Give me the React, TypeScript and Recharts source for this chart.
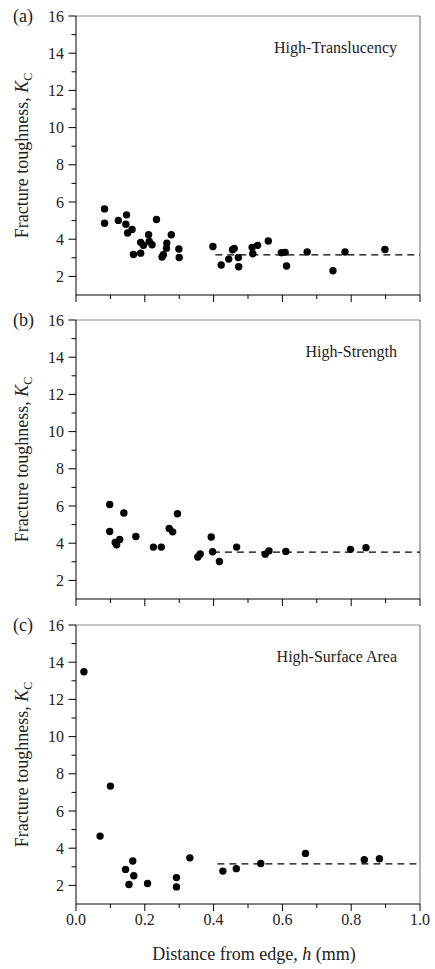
import React from 'react';
import { ScatterChart, Scatter, XAxis, YAxis, ReferenceLine } from 'recharts';

// distance from edge h (mm) and fracture toughness Kc for each material
const translucencyH = [0.083, 0.083, 0.123, 0.147, 0.145, 0.15, 0.163, 0.167, 0.188, 0.188, 0.196, 0.211, 0.213, 0.221, 0.234, 0.25, 0.254, 0.264, 0.263, 0.277, 0.299, 0.3, 0.398, 0.422, 0.444, 0.455, 0.46, 0.472, 0.473, 0.512, 0.514, 0.528, 0.559, 0.597, 0.608, 0.612, 0.672, 0.747, 0.782, 0.898];
const translucencyK = [5.63, 4.86, 5.01, 5.31, 4.81, 4.33, 4.52, 3.18, 3.25, 3.83, 3.67, 4.24, 3.88, 3.7, 5.06, 3.04, 3.16, 3.79, 3.52, 4.24, 3.47, 3.02, 3.61, 2.61, 2.93, 3.43, 3.5, 3.02, 2.52, 3.56, 3.22, 3.67, 3.9, 3.27, 3.29, 2.56, 3.31, 2.3, 3.31, 3.45];

const strengthH = [0.098, 0.098, 0.139, 0.114, 0.118, 0.127, 0.174, 0.225, 0.248, 0.271, 0.281, 0.295, 0.354, 0.361, 0.393, 0.397, 0.417, 0.467, 0.55, 0.561, 0.61, 0.798, 0.843];
const strengthK = [6.08, 4.63, 5.62, 4.04, 3.92, 4.2, 4.36, 3.79, 3.79, 4.79, 4.61, 5.58, 3.26, 3.42, 4.33, 3.54, 3.02, 3.79, 3.41, 3.59, 3.56, 3.67, 3.76];

const surfaceH = [0.023, 0.07, 0.1, 0.144, 0.165, 0.168, 0.154, 0.208, 0.292, 0.292, 0.331, 0.427, 0.466, 0.537, 0.667, 0.838, 0.882];
const surfaceK = [13.49, 4.65, 7.34, 2.86, 3.31, 2.52, 2.05, 2.1, 2.42, 1.92, 3.48, 2.77, 2.9, 3.18, 3.72, 3.38, 3.43];

// dashed plateau line: start h and level
const plateauStart = [0.405, 0.398, 0.411];
const plateauLevel = [3.16, 3.52, 3.16];

const panelLetters = ['(a)', '(b)', '(c)'];
const panelNames = ['High-Translucency', 'High-Strength', 'High-Surface Area'];

const yTicks = [2, 3, 4, 5, 6, 7, 8, 9, 10, 11, 12, 13, 14, 15, 16];
const xTicks = [0, 0.1, 0.2, 0.3, 0.4, 0.5, 0.6, 0.7, 0.8, 0.9, 1.0];

const FONT = '"Liberation Serif", "Times New Roman", serif';

const YTick = (props: any) => {
  const { x, y, payload } = props;
  const major = payload.value % 2 === 0;
  return (
    <g>
      <line x1={x - (major ? 7.5 : 4.5)} x2={x} y1={y} y2={y} stroke="#000" />
      {major && (
        <text x={x - 12} y={y} dy={5.5} textAnchor="end" fontSize={16} fontFamily={FONT} fill="#222">
          {payload.value}
        </text>
      )}
    </g>
  );
};

const makeXTick = (showLabels: boolean) => (props: any) => {
  const { x, y, payload, index } = props;
  const major = index % 2 === 0;
  return (
    <g>
      <line x1={x} x2={x} y1={y} y2={y + (major ? 7 : 4)} stroke="#000" />
      {showLabels && major && (
        <text x={x} y={y + 21} textAnchor="middle" fontSize={16} fontFamily={FONT} fill="#222">
          {payload.value.toFixed(1)}
        </text>
      )}
    </g>
  );
};

const YTitle = (props: any) => {
  const { viewBox } = props;
  const cx = viewBox.x + 28;
  const cy = viewBox.y + viewBox.height / 2;
  return (
    <text x={cx} y={cy} transform={`rotate(-90 ${cx} ${cy})`} textAnchor="middle" fontSize={18} fontFamily={FONT} fill="#222">
      Fracture toughness, <tspan fontStyle="italic">K</tspan>
      <tspan fontSize={12} dy={4}>C</tspan>
    </text>
  );
};

const XTitle = (props: any) => {
  const { viewBox } = props;
  const cx = viewBox.x + viewBox.width / 2 + 6;
  return (
    <text x={cx} y={viewBox.y + 56} textAnchor="middle" fontSize={18} fontFamily={FONT} fill="#222">
      Distance from edge,  <tspan fontStyle="italic">h</tspan> (mm)
    </text>
  );
};

const Dot = (p: any) => <circle cx={p.cx} cy={p.cy} r={3.7} fill="#000" />;

const panelTops = [0, 304, 609];

function Panel({ index, hs, ks }: { index: number; hs: number[]; ks: number[] }) {
  const last = index === 2;
  const data = hs.map((h, i) => ({ h, k: ks[i] }));
  return (
    <div style={{ position: 'absolute', left: 0, top: panelTops[index] }}>
      <ScatterChart width={435} height={last ? 360 : 305} margin={{ top: 16, right: 15, bottom: 0, left: 0 }}>
        <XAxis
          type="number"
          dataKey="h"
          domain={[0, 1]}
          ticks={xTicks}
          interval={0}
          height={last ? 65 : 10}
          tickSize={0}
          tickMargin={0}
          tickLine={false}
          tick={makeXTick(last)}
          axisLine={{ stroke: '#000' }}
          label={last ? (p: any) => <XTitle {...p} /> : undefined}
        />
        <YAxis
          type="number"
          dataKey="k"
          domain={[1, 16]}
          ticks={yTicks}
          interval={0}
          width={76}
          tickSize={0}
          tickMargin={0}
          tickLine={false}
          tick={YTick}
          axisLine={{ stroke: '#000' }}
          label={(p: any) => <YTitle {...p} />}
        />
        <ReferenceLine y={16} stroke="#8a8a8a" />
        <ReferenceLine x={1} stroke="#666" />
        <ReferenceLine
          segment={[
            { x: plateauStart[index], y: plateauLevel[index] },
            { x: 1, y: plateauLevel[index] },
          ]}
          stroke="#000"
          strokeWidth={1.3}
          strokeDasharray="7 5"
        />
        <Scatter data={data} fill="#000" shape={Dot} isAnimationActive={false} />
      </ScatterChart>
    </div>
  );
}

export default function App() {
  const plotTops = panelTops.map((t) => t + 16);
  return (
    <div style={{ position: 'absolute', left: 0, top: 0, width: 435, height: 969, background: '#fff' }}>
      <Panel index={0} hs={translucencyH} ks={translucencyK} />
      <Panel index={1} hs={strengthH} ks={strengthK} />
      <Panel index={2} hs={surfaceH} ks={surfaceK} />
      <svg width={435} height={969} style={{ position: 'absolute', left: 0, top: 0, pointerEvents: 'none' }}>
        {plotTops.map((t, i) => (
          <g key={i} fontFamily={FONT} fill="#222">
            <text x={13} y={t + 6} fontSize={18}>{panelLetters[i]}</text>
            <text x={397} y={t + 37} fontSize={16} textAnchor="end">{panelNames[i]}</text>
          </g>
        ))}
      </svg>
    </div>
  );
}
